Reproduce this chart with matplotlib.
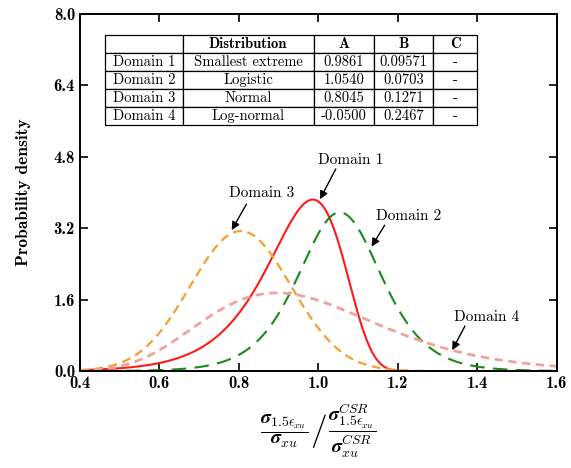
import numpy as np
import matplotlib
matplotlib.use("Agg")
import matplotlib.pyplot as plt

plt.rcParams['mathtext.fontset'] = 'cm'
plt.rcParams['axes.unicode_minus'] = False

# fitted parameters of each domain (from the table)
domains = ["Domain 1", "Domain 2", "Domain 3", "Domain 4"]
dists = ["Smallest extreme", "Logistic", "Normal", "Log-normal"]
A = [0.9861, 1.0540, 0.8045, -0.0500]
B = [0.09571, 0.0703, 0.1271, 0.2467]
A_txt = ["0.9861", "1.0540", "0.8045", "-0.0500"]
B_txt = ["0.09571", "0.0703", "0.1271", "0.2467"]
C_txt = ["-", "-", "-", "-"]

xticks = [0.4, 0.6, 0.8, 1.0, 1.2, 1.4, 1.6]
yticks = [0.0, 1.6, 3.2, 4.8, 6.4, 8.0]


def pdf(kind, x, a, b):
    if kind == "Smallest extreme":
        z = (x - a) / b
        return np.exp(z - np.exp(z)) / b
    if kind == "Logistic":
        z = np.exp(-(x - a) / b)
        return z / (b * (1 + z) ** 2)
    if kind == "Normal":
        return np.exp(-0.5 * ((x - a) / b) ** 2) / (b * np.sqrt(2 * np.pi))
    return np.exp(-0.5 * ((np.log(x) - a) / b) ** 2) / (x * b * np.sqrt(2 * np.pi))


styles = [
    dict(color='#ff1a1a', lw=1.5, ls='-'),
    dict(color='#1a8a1a', lw=1.5, ls=(0, (7, 4))),
    dict(color='#f5a030', lw=1.6, ls=(0, (4, 2.5))),
    dict(color='#f2a29c', lw=2.0, ls=(0, (3, 2))),
]

fig = plt.figure(figsize=(5.71, 4.68), dpi=100)
ax = fig.add_axes([0.140, 0.207, 0.835, 0.763])

x = np.linspace(0.4, 1.6, 800)
for d, a, b, st in zip(dists, A, B, styles):
    ax.plot(x, pdf(d, x, a, b), **st)

ax.set_xlim(0.4, 1.6)
ax.set_ylim(0, 8)
ax.set_xticks(xticks)
ax.set_yticks(yticks)
ax.set_xticklabels([f"{v:.1f}" for v in xticks], fontfamily='cmb10', fontsize=12)
ax.set_yticklabels([f"{v:.1f}" for v in yticks], fontfamily='cmb10', fontsize=12)
ax.tick_params(direction='in', top=True, right=True, length=6, width=1.2)
for s in ax.spines.values():
    s.set_linewidth(1.4)

ax.set_ylabel("Probability density", fontfamily='cmb10', fontsize=12.5, labelpad=16)

# x label: two fractions separated by a tall slash
ylab = 1 - 431 / 468
fig.text(309 / 571, ylab,
         r"$\dfrac{\boldsymbol{\sigma}_{1.5\epsilon_{xu}}}{\boldsymbol{\sigma}_{xu}}$",
         ha='right', va='center', fontsize=14)
fig.text(318.5 / 571, ylab, "/", ha='center', va='center', fontsize=24, fontfamily='cmr10')
fig.text(328 / 571, ylab,
         r"$\dfrac{\boldsymbol{\sigma}^{CSR}_{1.5\epsilon_{xu}}}{\boldsymbol{\sigma}^{CSR}_{xu}}$",
         ha='left', va='center', fontsize=14)

arrow = dict(arrowstyle='-|>', color='black', lw=1.0, mutation_scale=12, shrinkA=0, shrinkB=0)
notes = [
    ("Domain 1", (1.004, 3.85), (1.044, 4.53), (1.082, 4.73)),
    ("Domain 2", (1.134, 2.79), (1.167, 3.27), (1.228, 3.47)),
    ("Domain 3", (0.782, 3.16), (0.819, 3.74), (0.857, 3.99)),
    ("Domain 4", (1.337, 0.47), (1.369, 1.01), (1.423, 1.22)),
]
for label, tip, start, txt in notes:
    ax.annotate("", xy=tip, xytext=start, arrowprops=arrow)
    ax.text(txt[0], txt[1], label, ha='center', va='center', fontfamily='cmr10', fontsize=11)

rows = [["", "Distribution", "A", "B", "C"]]
for i in range(4):
    rows.append([domains[i], dists[i], A_txt[i], B_txt[i], C_txt[i]])
widths = [0.163, 0.274, 0.127, 0.124, 0.091]
tab = ax.table(cellText=rows, colWidths=widths, cellLoc='center',
               bbox=[0.0524, 0.689, 0.780, 0.252])
tab.auto_set_font_size(False)
for (r, c), cell in tab.get_celld().items():
    cell.set_linewidth(0.9)
    t = cell.get_text()
    t.set_fontsize(10.5)
    t.set_fontfamily('cmb10' if r == 0 else 'cmr10')

fig.savefig("out.png", dpi=100)
